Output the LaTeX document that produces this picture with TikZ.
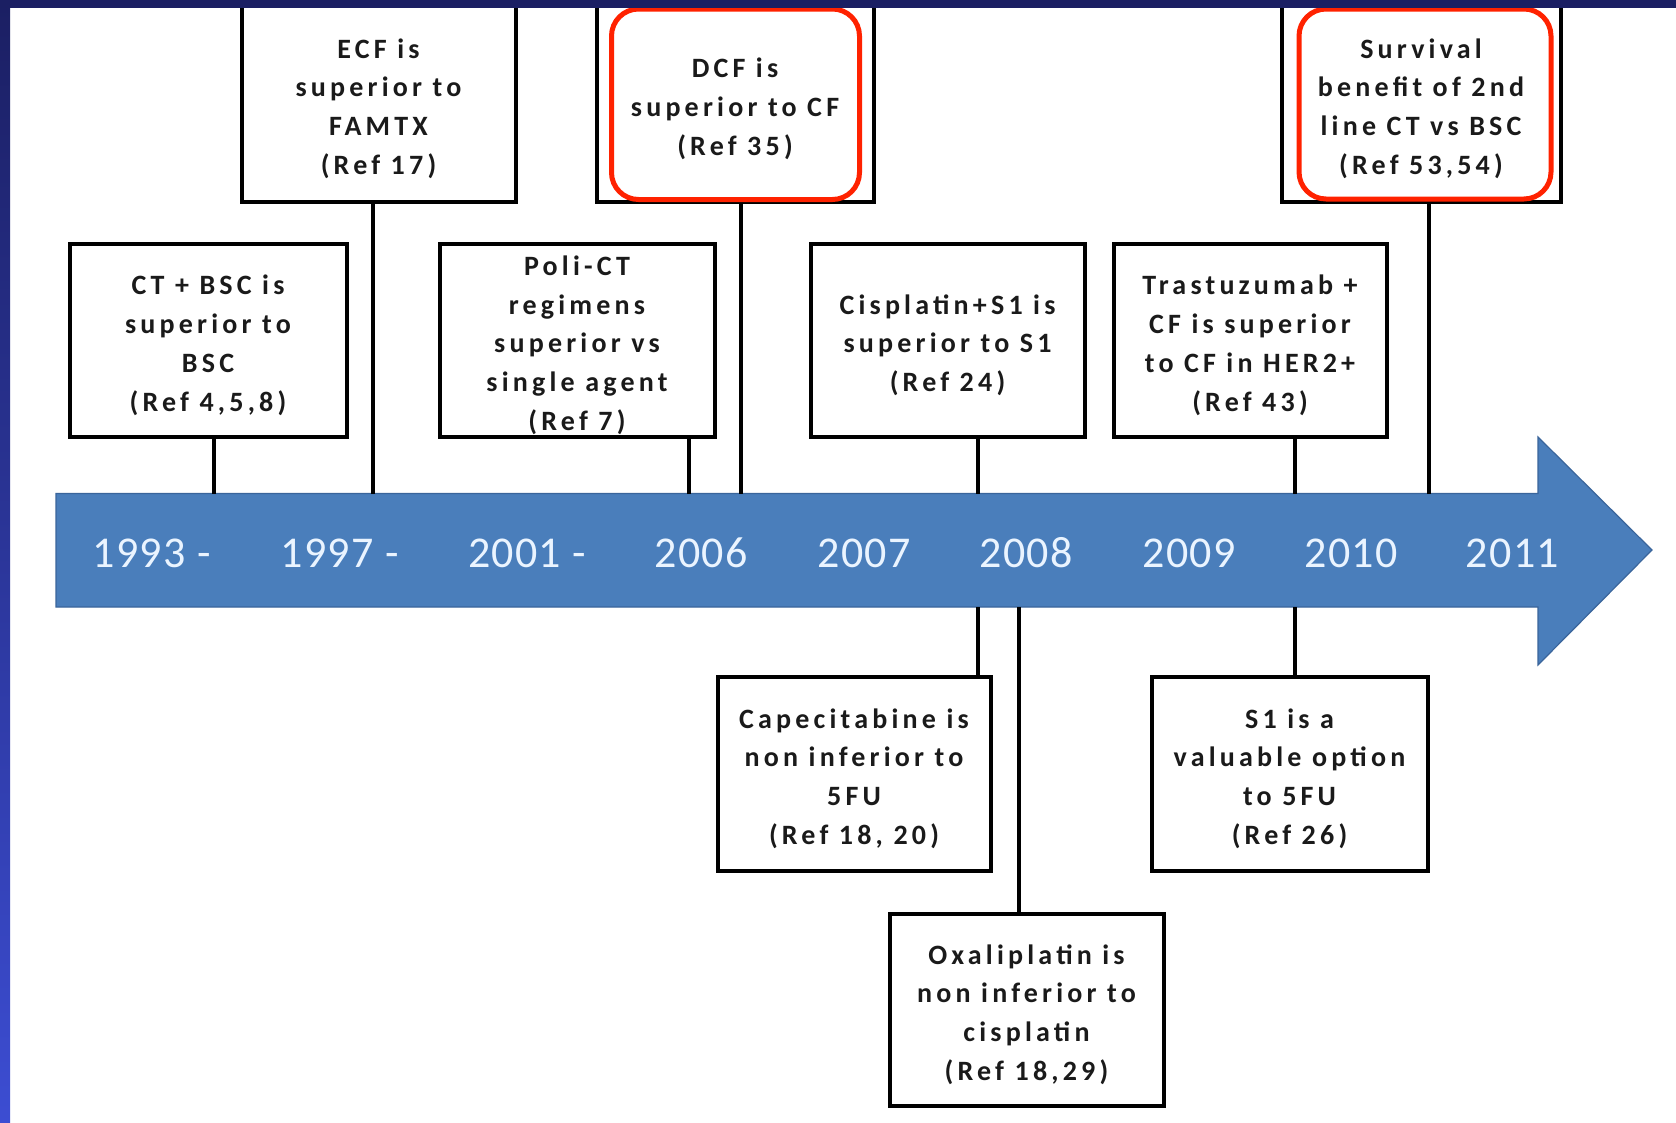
\documentclass[tikz,border=0pt]{standalone}
\usepackage{fontspec}
\setmainfont{Carlito}
\newfontfamily\boxfont{Carlito}[LetterSpace=15]
\newfontfamily\yearfont{Carlito}[LetterSpace=3]

\definecolor{navytop}{HTML}{1B1F63}
\definecolor{navybottom}{HTML}{3C4DD2}
\definecolor{arrowfill}{HTML}{4A7EBB}
\definecolor{arrowedge}{HTML}{3A659B}
\definecolor{yeartext}{HTML}{EAF4FF}
\definecolor{markred}{HTML}{FF2200}
\definecolor{boxtext}{HTML}{1A1A1A}

% a tall invisible strut that fixes the height of each box's first line
\newcommand\firstlinestrut{\rule{0pt}{30pt}}

\tikzset{
  eventbox/.style={draw=black, line width=4pt, fill=white, inner sep=0pt,
    align=center, text=boxtext,
    font=\boxfont\bfseries\fontsize{28}{38.8}\selectfont},
  highlight/.style={draw=markred, line width=5pt, rounded corners=27pt,
    inner sep=0pt},
  link/.style={draw=black, line width=4pt},
  yearlabel/.style={anchor=base, text=yeartext, inner sep=0pt,
    font=\yearfont\fontsize{44}{50}\selectfont},
}

\begin{document}
\begin{tikzpicture}[x=1pt, y=-1pt]
  \useasboundingbox (0,0) rectangle (1676,1122);
  \fill[white] (0,0) rectangle (1676,1122);

  % timeline arrow
  \filldraw[fill=arrowfill, draw=arrowedge, line width=1.2pt]
    (56,493.5) -- (1538,493.5) -- (1538,437) -- (1652,550)
    -- (1538,665) -- (1538,607) -- (56,607) -- cycle;
  \node (bar) [minimum width=1482pt, minimum height=113.5pt,
    inner sep=0pt, outer sep=0pt] at (797,550.25) {};

  % years
  \node (y1993) [yearlabel] at (151.5,567) {1993 -};
  \node (y1997) [yearlabel] at (339.5,567) {1997 -};
  \node (y2001) [yearlabel] at (527,567) {2001 -};
  \node (y2006) [yearlabel] at (701,567) {2006};
  \node (y2007) [yearlabel] at (864,567) {2007};
  \node (y2008) [yearlabel] at (1026,567) {2008};
  \node (y2009) [yearlabel] at (1189,567) {2009};
  \node (y2010) [yearlabel] at (1351,567) {2010};
  \node (y2011) [yearlabel] at (1512.5,567) {2011};

  % events above the timeline
  \node (ctbsc) [eventbox, minimum width=277pt, minimum height=193pt]
    at (208,340) {\firstlinestrut CT + BSC is\\superior to\\BSC\\(Ref 4,5,8)};
  \node (ecf) [eventbox, minimum width=274pt, minimum height=197pt]
    at (378.5,103.5) {\firstlinestrut ECF is\\superior to\\FAMTX\\(Ref 17)};
  \node (dcf) [eventbox, minimum width=277pt, minimum height=197pt]
    at (735,103.5) {\firstlinestrut DCF is\\superior to CF\\(Ref 35)};
  \node (polict) [eventbox, minimum width=275pt, minimum height=193pt]
    at (577,340) {\firstlinestrut Poli-CT\\regimens\\superior vs\\single agent\\(Ref 7)};
  \node (cisp) [eventbox, minimum width=274pt, minimum height=193pt]
    at (947.5,340) {\firstlinestrut Cisplatin+S1 is\\superior to S1\\(Ref 24)};
  \node (trast) [eventbox, minimum width=273pt, minimum height=193pt]
    at (1250,340) {\firstlinestrut Trastuzumab +\\CF is superior\\to CF in HER2+\\(Ref 43)};
  \node (surv) [eventbox, minimum width=279pt, minimum height=197pt]
    at (1421,103.5) {\firstlinestrut Survival\\benefit of 2nd\\line CT vs BSC\\(Ref 53,54)};

  % events below the timeline
  \node (cape) [eventbox, minimum width=273pt, minimum height=194pt]
    at (854,773.5) {\firstlinestrut Capecitabine is\\non inferior to\\5FU\\(Ref 18, 20)};
  \node (sone) [eventbox, minimum width=276pt, minimum height=194pt]
    at (1289.5,773.5) {\firstlinestrut S1 is a\\valuable option\\to 5FU\\(Ref 26)};
  \node (oxa) [eventbox, minimum width=274pt, minimum height=192pt]
    at (1026.5,1009.5) {\firstlinestrut Oxaliplatin is\\non inferior to\\cisplatin\\(Ref 18,29)};

  % highlighted key trials
  \node (dcfmark) [highlight, minimum width=248pt, minimum height=190.5pt]
    at (735.5,104.25) {};
  \node (survmark) [highlight, minimum width=252pt, minimum height=190pt]
    at (1425,104) {};

  % connectors to the timeline
  \coordinate (xctbsc) at (214,0);
  \coordinate (xecf) at (372.5,0);
  \coordinate (xpolict) at (689,0);
  \coordinate (xdcf) at (741,0);
  \coordinate (xcisp) at (978,0);
  \coordinate (xtrast) at (1295,0);
  \coordinate (xsurv) at (1429,0);
  \coordinate (xcape) at (978,0);
  \coordinate (xoxa) at (1019,0);
  \coordinate (xsone) at (1295,0);

  \draw[link] (ctbsc.south -| xctbsc) -- (xctbsc |- bar.north);
  \draw[link] (ecf.south -| xecf) -- (xecf |- bar.north);
  \draw[link] (polict.south -| xpolict) -- (xpolict |- bar.north);
  \draw[link] (dcf.south -| xdcf) -- (xdcf |- bar.north);
  \draw[link] (cisp.south -| xcisp) -- (xcisp |- bar.north);
  \draw[link] (trast.south -| xtrast) -- (xtrast |- bar.north);
  \draw[link] (surv.south -| xsurv) -- (xsurv |- bar.north);
  \draw[link] (xcape |- bar.south) -- (cape.north -| xcape);
  \draw[link] (xoxa |- bar.south) -- (oxa.north -| xoxa);
  \draw[link] (xsone |- bar.south) -- (sone.north -| xsone);

  % slide frame
  \shade[top color=navytop, bottom color=navybottom] (0,0) rectangle (10,1122);
  \fill[navytop] (0,0) rectangle (1676,8);
\end{tikzpicture}
\end{document}
